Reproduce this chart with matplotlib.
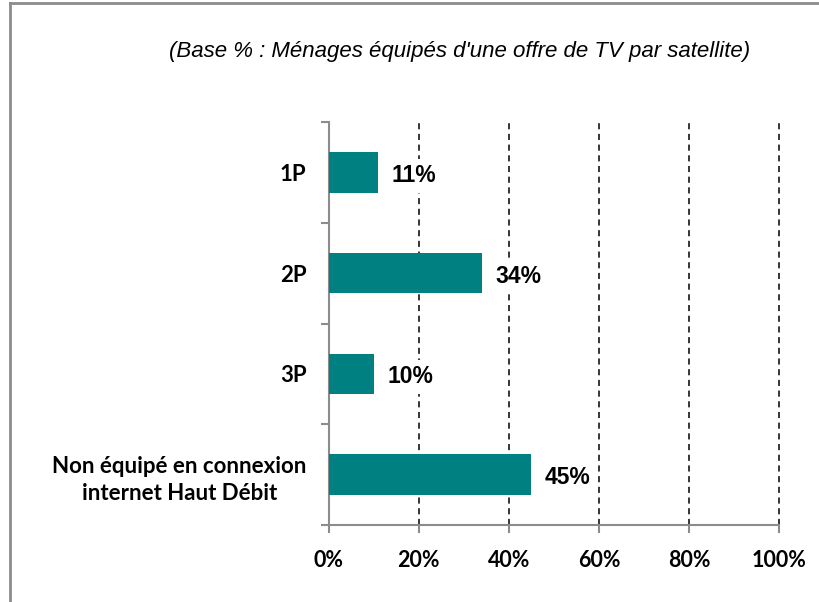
import matplotlib
matplotlib.use("Agg")
import matplotlib.pyplot as plt
from matplotlib.lines import Line2D

categories = ["1P", "2P", "3P", "Non équipé en connexion\ninternet Haut Débit"]
values = [11, 34, 10, 45]
xticks = [0, 20, 40, 60, 80, 100]
xtick_labels = ["0%", "20%", "40%", "60%", "80%", "100%"]
subtitle = "(Base % : Ménages équipés d'une offre de TV par satellite)"

teal = "#008080"
gray = "#8c8c8c"

fig = plt.figure(figsize=(8.2, 6.02), dpi=100)
ax = fig.add_axes([0.401, 0.128, 0.549, 0.669])

ypos = list(range(len(categories)))
ax.barh(ypos, values, height=0.4, color=teal, zorder=3)
ax.set_ylim(len(categories) - 0.5, -0.5)
ax.set_xlim(0, 100)

# dashed gridlines (not at 0)
for x in xticks[1:]:
    ax.axvline(x, color="black", linestyle=(0, (4, 3)), linewidth=1.1,
               zorder=1, clip_on=False)

# value labels sit on a white box that hides the gridlines behind them
for y, v in zip(ypos, values):
    ax.text(v + 3, y + 0.03, f"{v}%", va="center", ha="left",
            fontsize=16.5, fontweight="bold", family="Liberation Sans", zorder=4,
            bbox=dict(facecolor="white", edgecolor="none", pad=4))

ax.set_xticks(xticks)
ax.set_xticklabels(xtick_labels, fontsize=15.5, fontweight="bold", family="Lato")
ax.set_yticks(ypos)
ax.set_yticklabels(categories, fontsize=16, fontweight="bold", family="Lato",
                   linespacing=1.35, multialignment="center")
ax.set_yticks([y + 0.5 for y in [-1] + ypos], minor=True)
ax.tick_params(axis="y", which="major", length=0, pad=16)
ax.tick_params(axis="y", which="minor", length=6, color=gray, width=1.5)
ax.tick_params(axis="x", length=6, color=gray, width=1.5, pad=12)

for s in ["top", "right"]:
    ax.spines[s].set_visible(False)
for s in ["left", "bottom"]:
    ax.spines[s].set_color(gray)
    ax.spines[s].set_linewidth(1.5)

fig.text(0.56, 0.914, subtitle, ha="center", va="center", fontsize=16,
         style="italic", family="Liberation Sans")

# figure frame: top and left edges
fig.add_artist(Line2D([0.0128, 1.0], [0.995, 0.995], color=gray, lw=2))
fig.add_artist(Line2D([0.0128, 0.0128], [0.0, 0.995], color=gray, lw=2))

fig.savefig("out.png", dpi=100)
